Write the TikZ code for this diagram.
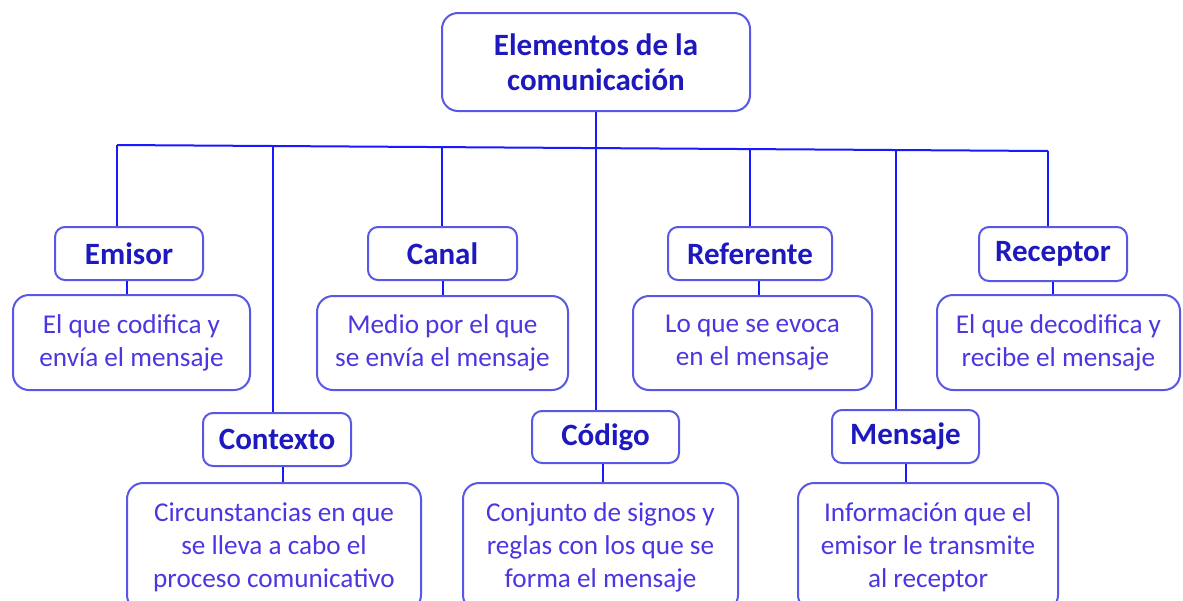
\documentclass[tikz,border=0pt]{standalone}
\usepackage{fontspec}
\setmainfont{Carlito}
\definecolor{boxline}{RGB}{88,88,228}
\definecolor{wire}{RGB}{25,25,255}
\definecolor{headtext}{RGB}{30,25,190}
\definecolor{desctext}{RGB}{75,55,225}
\tikzset{
  headbox/.style={draw=boxline, line width=2pt, rounded corners=10pt, fill=white,
    text=headtext, font=\bfseries\fontsize{31}{35}\selectfont, inner sep=0pt, align=center},
  descbox/.style={draw=boxline, line width=2pt, rounded corners=16pt, fill=white,
    text=desctext, font=\fontsize{27.2}{33}\selectfont, inner sep=0pt, align=center},
  wireline/.style={draw=wire, line width=2pt}
}
\begin{document}
\begin{tikzpicture}[x=1pt,y=-1pt]
\useasboundingbox (0,0) rectangle (1183,600);
\clip (0,0) rectangle (1183,600);
% bus coordinates
\coordinate (busL) at (117,145);
\coordinate (busR) at (1048,151);
\coordinate (b2) at (273,146);
\coordinate (b3) at (442,147.1);
\coordinate (b4) at (596,148.1);
\coordinate (b5) at (750,149.1);
\coordinate (b6) at (896,150);

\node[headbox, rounded corners=16pt, minimum width=308pt, minimum height=98pt,
  font=\bfseries\fontsize{31}{35}\selectfont] (title) at (596,62) {Elementos de la\\comunicación};

\node[headbox, minimum width=148pt, minimum height=53pt] (emisor) at (129,253.5) {Emisor};
\node[descbox, minimum width=237pt, minimum height=95pt] (emisorD) at (131.5,342.5) {El que codifica y\\envía el mensaje};

\node[headbox, minimum width=149pt, minimum height=53pt] (canal) at (442.5,253.5) {Canal};
\node[descbox, minimum width=251pt, minimum height=94pt] (canalD) at (442.5,343) {Medio por el que\\se envía el mensaje};

\node[headbox, minimum width=164pt, minimum height=53pt] (referente) at (750,253.5) {Referente};
\node[descbox, minimum width=239pt, minimum height=94pt] (referenteD) at (752.5,343) {Lo que se evoca\\en el mensaje};

\node[headbox, minimum width=148pt, minimum height=54pt] (receptor) at (1053,254) {Receptor};
\node[descbox, minimum width=243pt, minimum height=95pt] (receptorD) at (1058.5,342.5) {El que decodifica y\\recibe el mensaje};

\node[headbox, minimum width=148pt, minimum height=53pt] (contexto) at (277,439.5) {Contexto};
\node[descbox, minimum width=294pt, minimum height=128pt] (contextoD) at (274,547) {Circunstancias en que\\se lleva a cabo el\\proceso comunicativo};

\node[headbox, minimum width=147pt, minimum height=52pt] (codigo) at (605.5,437) {Código};
\node[descbox, minimum width=275pt, minimum height=128pt] (codigoD) at (600.5,547) {Conjunto de signos y\\reglas con los que se\\forma el mensaje};

\node[headbox, minimum width=147pt, minimum height=53pt] (mensaje) at (905.5,436.5) {Mensaje};
\node[descbox, minimum width=260pt, minimum height=128pt] (mensajeD) at (928,547) {Información que el\\emisor le transmite\\al receptor};

% connectors
\draw[wireline] (title.south) -- (b4);
\draw[wireline] (busL) -- (busR);
\draw[wireline] (busL) -- (busL |- emisor.north);
\draw[wireline] (b2) -- (b2 |- contexto.north);
\draw[wireline] (b3) -- (b3 |- canal.north);
\draw[wireline] (b4) -- (b4 |- codigo.north);
\draw[wireline] (b5) -- (b5 |- referente.north);
\draw[wireline] (b6) -- (b6 |- mensaje.north);
\draw[wireline] (busR) -- (busR |- receptor.north);

\draw[wireline] ([xshift=-2pt]emisor.south) -- ([xshift=-2pt]emisor.south |- emisorD.north);
\draw[wireline] (canal.south) -- (canal.south |- canalD.north);
\draw[wireline] ([xshift=9pt]referente.south) -- ([xshift=9pt]referente.south |- referenteD.north);
\draw[wireline] (receptor.south) -- (receptor.south |- receptorD.north);
\draw[wireline] ([xshift=6pt]contexto.south) -- ([xshift=6pt]contexto.south |- contextoD.north);
\draw[wireline] ([xshift=-3pt]codigo.south) -- ([xshift=-3pt]codigo.south |- codigoD.north);
\draw[wireline] (mensaje.south) -- (mensaje.south |- mensajeD.north);
\end{tikzpicture}
\end{document}
